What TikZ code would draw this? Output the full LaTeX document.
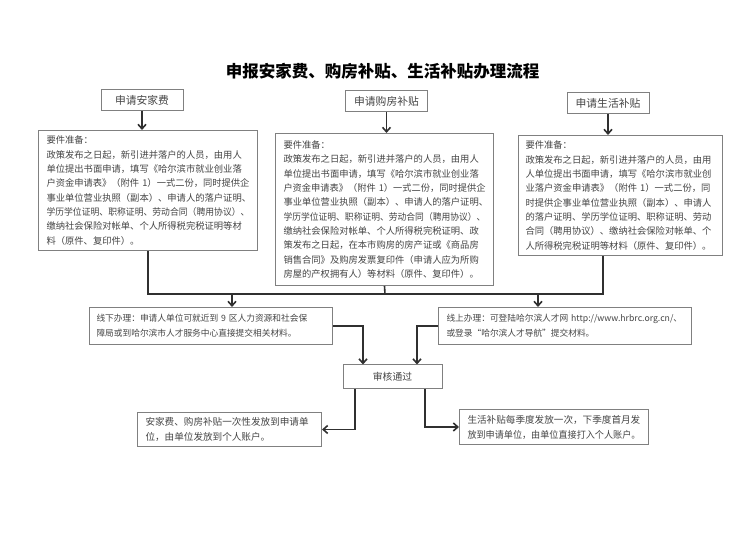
\documentclass[tikz,border=0pt]{standalone}
\usepackage{fontspec}
\setmainfont{Noto Sans CJK SC}
\usetikzlibrary{arrows.meta}
\definecolor{boxgray}{HTML}{808080}
\definecolor{txtgray}{HTML}{454545}
\definecolor{linegray}{HTML}{303030}
\begin{document}
\begin{tikzpicture}[
  x=1pt, y=-1pt,
  hnode/.style={draw=boxgray, line width=1pt, minimum width=82pt, minimum height=21pt, inner sep=0pt, text=txtgray, font=\fontsize{10.8}{13}\selectfont},
  dnode/.style={draw=boxgray, line width=1pt, anchor=north west, inner xsep=8pt, inner ysep=0pt, align=left, text=txtgray, font=\fontsize{9.3}{14.3}\selectfont},
  bnode/.style={dnode, inner xsep=7pt, font=\fontsize{8.7}{15}\selectfont},
  rnode/.style={dnode, font=\fontsize{9.6}{15}\selectfont},
  conn/.style={-, line width=1.6pt, draw=linegray},
  arw/.style={conn, -{Straight Barb[length=4.5pt,width=8pt]}}
  ]

\fill [white] (0,0) rectangle (756,534);
\useasboundingbox (0,0) rectangle (756,534);

% title
\node [font=\fontsize{16.5}{20}\selectfont\bfseries, text=black] (title) at (382.5,71) {申报安家费、购房补贴、生活补贴办理流程};

% applications
\node [hnode] (h1) at (142,100) {申请安家费};
\node [hnode] (h2) at (386.5,101) {申请购房补贴};
\node [hnode] (h3) at (608,103.5) {申请生活补贴};

% requirements
\node [dnode, text width=203pt, minimum height=120pt] (d1) at (38,130) {要件准备：\\
政策发布之日起，新引进并落户的人员，由用人\\
单位提出书面申请，填写《哈尔滨市就业创业落\\
\resizebox{203pt}{\height}{户资金申请表》（附件~1）一式二份，同时提供企}\\
事业单位营业执照（副本）、申请人的落户证明、\\
\resizebox{203pt}{\height}{学历学位证明、职称证明、劳动合同（聘用协议）、}\\
缴纳社会保险对帐单、个人所得税完税证明等材\\
料（原件、复印件）。};

\node [dnode, text width=202pt, minimum height=152pt] (d2) at (275,133) {要件准备：\\
政策发布之日起，新引进并落户的人员，由用人\\
单位提出书面申请，填写《哈尔滨市就业创业落\\
\resizebox{202pt}{\height}{户资金申请表》（附件~1）一式二份，同时提供企}\\
事业单位营业执照（副本）、申请人的落户证明、\\
\resizebox{202pt}{\height}{学历学位证明、职称证明、劳动合同（聘用协议）、}\\
缴纳社会保险对帐单、个人所得税完税证明、政\\
策发布之日起，在本市购房的房产证或《商品房\\
销售合同》及购房发票复印件（申请人应为所购\\
房屋的产权拥有人）等材料（原件、复印件）。};

\node [dnode, inner xsep=7pt, text width=190pt, minimum height=120pt] (d3) at (518,135) {要件准备：\\
政策发布之日起，新引进并落户的人员，由用\\
人单位提出书面申请，填写《哈尔滨市就业创\\
业落户资金申请表》（附件~1）一式二份，同\\
时提供企事业单位营业执照（副本）、申请人\\
的落户证明、学历学位证明、职称证明、劳动\\
合同（聘用协议）、缴纳社会保险对帐单、个\\
人所得税完税证明等材料（原件、复印件）。};

% ways to submit
\node [bnode, text width=229pt, minimum height=37pt] (off) at (89,307) {线下办理：申请人单位可就近到~9~区人力资源和社会保\\
障局或到哈尔滨市人才服务中心直接提交相关材料。};
\node [bnode, inner xsep=8pt, text width=237pt, minimum height=37pt] (on) at (438,307) {线上办理：可登陆哈尔滨人才网~http://www.hrbrc.org.cn/、\\
或登录“哈尔滨人才导航”提交材料。};

% review and payment
\node [hnode, minimum width=99pt, minimum height=24pt, font=\fontsize{9.8}{12}\selectfont] (rev) at (392.5,377) {审核通过};
\node [rnode, text width=168pt, minimum height=34pt] (res1) at (137,412) {安家费、购房补贴一次性发放到申请单\\
位，由单位发放到个人账户。};
\node [rnode, text width=173pt, minimum height=35pt] (res2) at (459,409) {生活补贴每季度发放一次，下季度首月发\\
\resizebox{173pt}{\height}{放到申请单位，由单位直接打入个人账户。}};

\coordinate (b1) at (148,294);
\coordinate (b2) at (385,294);
\coordinate (b3) at (603,294);
\coordinate (t1) at (232,294);
\coordinate (t2) at (538,294);

\draw [arw] (h1.south) -- (h1.south |- d1.north);
\draw [arw] (h2.south) -- (h2.south |- d2.north);
\draw [arw] (h3.south) -- (h3.south |- d3.north);

\draw [conn] (b3 |- d3.south) -- (b3) -- (b1) -- (b1 |- d1.south);
\draw [conn] (d2.south) -- (b2);
\draw [arw] (t1) -- (t1 |- off.north);
\draw [arw] (t2) -- (t2 |- on.north);

\draw [arw] (off.east) -| ([xshift=-29.5pt]rev.north);
\draw [arw] (on.west) -| ([xshift=24.5pt]rev.north);

\draw [arw] ([xshift=-37.5pt]rev.south) |- (res1.east);
\draw [arw] ([xshift=32.5pt]rev.south) |- (res2.west);

\end{tikzpicture}
\end{document}
